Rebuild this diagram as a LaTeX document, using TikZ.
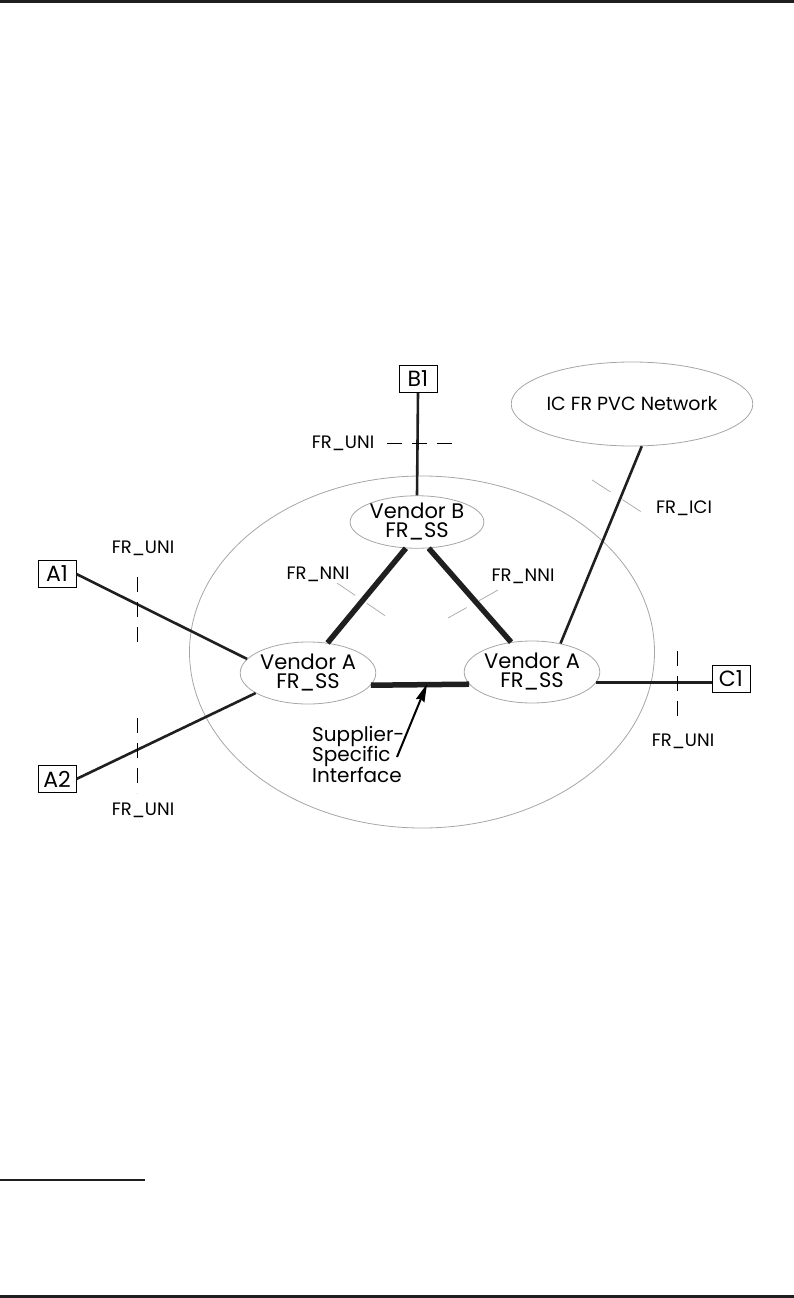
\documentclass[tikz,border=0pt]{standalone}
\usepackage{fontspec}
\setmainfont{Poppins}
\usetikzlibrary{shapes.geometric,arrows.meta}
\begin{document}
\begin{tikzpicture}[x=1pt,y=-1pt,
  rule/.style={line width=3pt,draw=black!88},
  box/.style={draw,line width=0.8pt,inner sep=0pt,minimum width=38pt,minimum height=27pt,font=\fontsize{22}{24}\selectfont},
  grayell/.style={ellipse,draw=black!35,line width=0.8pt,inner sep=0pt},
  vendor/.style={grayell,minimum width=120pt,minimum height=62pt,align=center,font=\fontsize{21}{19}\selectfont},
  lbl/.style={inner sep=0pt,font=\fontsize{18}{20}\selectfont},
  conn/.style={line width=2.6pt,draw=black!88},
  trunk/.style={line width=5.5pt,draw=black!88},
  unidash/.style={line width=0.8pt,dash pattern=on 15pt off 10pt},
  nnidash/.style={line width=0.7pt,draw=black!35,dash pattern=on 22pt off 14pt}
]
\useasboundingbox (0,0) rectangle (794,1298);
% page rules
\draw[rule] (0,1.5) -- (794,1.5);
\draw[rule] (0,1296.5) -- (794,1296.5);
\draw[line width=2pt,draw=black!88] (0,1180) -- (145,1180);

% big ellipse
\node[grayell,minimum width=465pt,minimum height=352pt] (net) at (422,652) {};
% IC network
\node[grayell,minimum width=238pt,minimum height=84pt,font=\fontsize{19}{21}\selectfont] (ic) at (632,404) {IC FR PVC Network};

% vendor nodes
\node[vendor] (vb) at (417,522) [minimum width=118pt,minimum height=52pt] {Vendor B\\FR\_SS};
\node[vendor] (val) at (308,673) {Vendor A\\FR\_SS};
\node[vendor] (var) at (532,672) {Vendor A\\FR\_SS};

% end boxes
\node[box] (b1) at (418,379) {B1};
\node[box] (a1) at (57,574) {A1};
\node[box] (a2) at (57,779) {A2};
\node[box] (c1) at (731,679) {C1};

% connectors
\draw[conn] (b1.south) -- (vb.north);
\draw[conn] (a1.east) -- (val.167);
\draw[conn] (a2.east) -- (val.201);
\draw[conn] (var.-9) -- (var.-9 -| c1.west);
\draw[conn] (ic.283) -- (var.45);
\draw[trunk] (vb.247) -- (val.57);
\draw[trunk] (vb.294) -- (var.125);
\draw[trunk] (val.-11) -- (var.191);

% interface markers
\draw[unidash] (387,443) -- (453,443);
\draw[unidash] (137,577) -- (137,645);
\draw[unidash] (137,718) -- (137,793);
\draw[unidash] (677,651) -- (677,716);
\draw[nnidash] (592,480) -- (643,513);
\draw[nnidash] (337,583) -- (387,617);
\draw[nnidash] (498,590) -- (448,618);

% labels
\node[lbl] (l1) at (343,443) {FR\_UNI};
\node[lbl] (l2) at (143,548) {FR\_UNI};
\node[lbl] (l3) at (143,810) {FR\_UNI};
\node[lbl] (l4) at (683,741) {FR\_UNI};
\node[lbl] (l5) at (684,508) {FR\_ICI};
\node[lbl] (l6) at (318,574) {FR\_NNI};
\node[lbl] (l7) at (523,576) {FR\_NNI};

% supplier-specific interface
\node[inner sep=0pt,anchor=north west,align=left,font=\fontsize{20}{20.5}\selectfont] (ssi) at (312,726) {Supplier-\\Specific\\Interface};
\coordinate (ssistart) at (397,757);
\coordinate (ssitip) at (427,684);
\draw[line width=2pt,-{Stealth[length=18pt,width=9pt,inset=2pt]}] (ssistart) -- (ssitip);
\end{tikzpicture}
\end{document}
